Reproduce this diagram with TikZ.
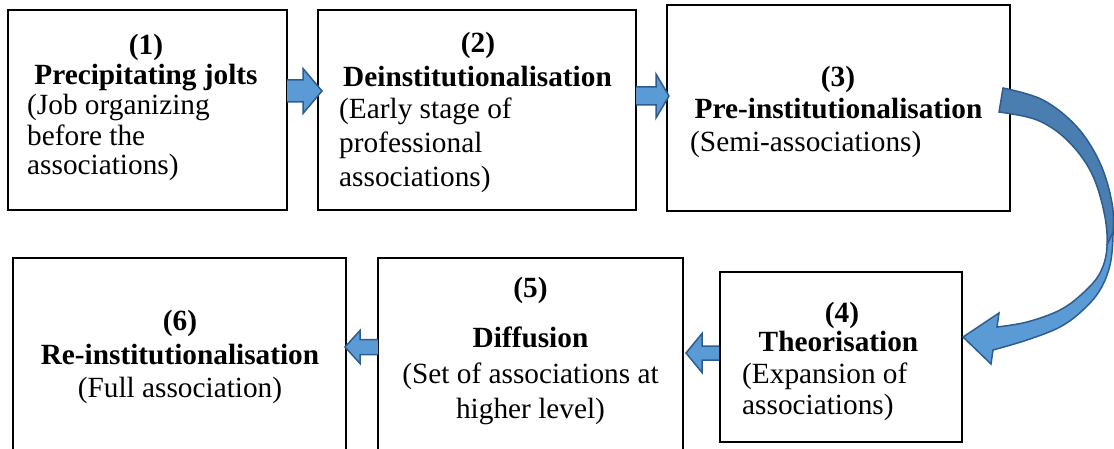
\documentclass[tikz,border=0pt]{standalone}
\usepackage{fontspec}
\setmainfont{Liberation Serif}
\usetikzlibrary{calc}
\definecolor{arrowfill}{HTML}{5B9BD5}
\definecolor{arrowdark}{HTML}{4A7DB0}
\definecolor{arrowline}{HTML}{2F5C8F}
\tikzset{
  box/.style={draw=black, line width=2pt, inner sep=0pt},
  ttl/.style={font=\fontsize{29.3}{30}\selectfont\bfseries, inner sep=0pt, anchor=base},
  dsc/.style={font=\fontsize{29.3}{30}\selectfont, inner sep=0pt, anchor=base west},
  dscc/.style={font=\fontsize{29.3}{30}\selectfont, inner sep=0pt, anchor=base},
  barrow/.style={fill=arrowfill, draw=arrowline, line width=1.5pt, line join=miter},
  crescent/.style={insert path={
    plot[smooth, tension=0.6] coordinates {(1003,88) (1043,100) (1077,127) (1100,163) (1112,203) (1113,235) (1110,265) (1100,290) (1083,310) (1060,327) (1027,340) (993,350)}
    -- (991,364) -- (ctip) -- (999,313)
    -- plot[smooth, tension=0.6] coordinates {(997,327) (1027,322) (1060,310) (1083,293) (1100,273) (1107,247) (1104,212) (1091,172) (1067,140) (1037,120) (999,112)}
    -- cycle}},
}
\newcommand\hblock[5]{%
  \coordinate (hb) at ($(#2)!#5!(#1)$);
  \filldraw[barrow] ($(#1)+(0,#3)$) -- ($(hb)+(0,#3)$) -- ($(hb)+(0,#4)$) -- (#2)
    -- ($(hb)+(0,-#4)$) -- ($(hb)+(0,-#3)$) -- ($(#1)+(0,-#3)$);
}
\begin{document}
\begin{tikzpicture}[x=1pt,y=-1pt]
\clip (0,0) rectangle (1114,449);
% boxes
\node[box, minimum width=279pt, minimum height=200pt] (b1) at (147.5,110) {};
\node[box, minimum width=318pt, minimum height=200pt] (b2) at (477,110) {};
\node[box, minimum width=343pt, minimum height=206pt] (b3) at (838.5,108) {};
\node[box, minimum width=242pt, minimum height=170pt] (b4) at (841,357) {};
\node[box, minimum width=305pt, minimum height=212pt] (b5) at (530.5,364) {};
\node[box, minimum width=333pt, minimum height=212pt] (b6) at (179.5,364) {};
% texts box 1
\node[ttl] (n1) at (146,55) {(1)};
\node[ttl] (h1) at (146,85) {Precipitating jolts};
\node[dsc] (d1a) at (27,115) {(Job organizing};
\node[dsc] (d1b) at (27,146) {before the};
\node[dsc] (d1c) at (27,175) {associations)};
% box 2
\node[ttl] (n2) at (478,53) {(2)};
\node[ttl] (h2) at (477.5,87) {Deinstitutionalisation};
\node[dsc] (d2a) at (339,119) {(Early stage of};
\node[dsc] (d2b) at (339,153) {professional};
\node[dsc] (d2c) at (339,187) {associations)};
% box 3
\node[ttl] (n3) at (838,86.5) {(3)};
\node[ttl] (h3) at (838.5,118.5) {Pre-institutionalisation};
\node[dsc] (d3a) at (690,152) {(Semi-associations)};
% box 4
\node[ttl] (n4) at (842,322) {(4)};
\node[ttl] (h4) at (838.5,351) {Theorisation};
\node[dsc] (d4a) at (742,383.5) {(Expansion of};
\node[dsc] (d4b) at (742,414) {associations)};
% box 5
\node[ttl] (n5) at (530.5,298) {(5)};
\node[ttl] (h5) at (530.5,347) {Diffusion};
\node[dscc] (d5a) at (530.5,383) {(Set of associations at};
\node[dscc] (d5b) at (530.5,418) {higher level)};
% box 6
\node[ttl] (n6) at (180,330.5) {(6)};
\node[ttl] (h6) at (180,364.5) {Re-institutionalisation};
\node[dscc] (d6a) at (180,397.5) {(Full association)};
% straight block arrows
\coordinate (s12) at ($(b1.east)+(-1,-19)$);
\coordinate (t12) at ($(b2.west)+(5,-19)$);
\hblock{s12}{t12}{11}{22.5}{19pt}
\coordinate (s23) at ($(b2.east)+(-1,-14)$);
\coordinate (t23) at ($(b3.west)+(3,-12)$);
\hblock{s23}{t23}{9}{22}{13pt}
\coordinate (s45) at ($(b4.west)+(0,-4)$);
\coordinate (t45) at ($(b5.east)+(2,-11)$);
\hblock{s45}{t45}{7}{19.5}{16pt}
\coordinate (s56) at ($(b5.west)+(1,-17)$);
\coordinate (t56) at ($(b6.east)+(-2,-17)$);
\hblock{s56}{t56}{7.5}{16.5}{15pt}
% curved arrow from box 3 to box 4
\coordinate (ctip) at ($(b4.east)+(0,-20)$);
\fill[arrowfill, crescent];
\begin{scope}
  \clip (990,60) -- (1130,60) -- (1130,196) -- (1106,247) -- (990,247) -- cycle;
  \fill[arrowdark, crescent];
\end{scope}
\draw[arrowline, line width=1.5pt, line join=miter, crescent];
\draw[arrowline, line width=1.5pt] (1113,232) -- (1106.5,246);
\end{tikzpicture}
\end{document}
